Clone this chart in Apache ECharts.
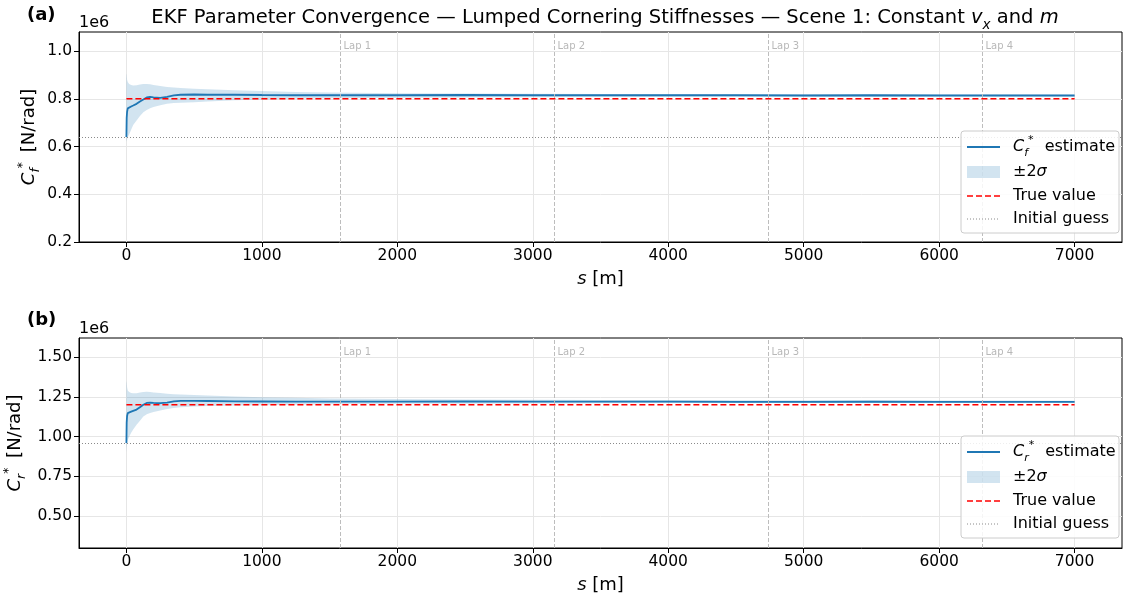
<!DOCTYPE html>
<html>
<head>
<meta charset="utf-8">
<script src="https://cdn.jsdelivr.net/npm/echarts@6/dist/echarts.min.js"></script>
<style>
html,body{margin:0;padding:0;background:#fff;}
#c{width:1123px;height:598px;}
</style>
</head>
<body>
<div id="c"></div>
<script>
// ---------- data ----------
const S = [0,2,5,10,20,35,50,75,100,125,150,175,200,250,300,350,400,500,600,800,1000,1250,1500,2000,2500,3000,3500,4000,4500,5000,5500,6000,6500,7000];
const cfEst = [0.64,0.72,0.745,0.76,0.765,0.768,0.772,0.779,0.789,0.797,0.806,0.808,0.806,0.804,0.808,0.814,0.817,0.818,0.817,0.817,0.816,0.815,0.815,0.815,0.816,0.815,0.815,0.815,0.815,0.814,0.815,0.814,0.814,0.814];
const cfUp  = [0.905,0.90,0.88,0.87,0.862,0.858,0.856,0.857,0.86,0.862,0.862,0.861,0.858,0.854,0.85,0.847,0.845,0.842,0.84,0.836,0.833,0.829,0.826,0.823,0.822,0.821,0.82,0.82,0.819,0.819,0.818,0.818,0.818,0.817];
const cfLo  = [0.62,0.625,0.63,0.64,0.65,0.67,0.69,0.709,0.728,0.744,0.753,0.761,0.766,0.773,0.779,0.782,0.784,0.786,0.789,0.794,0.797,0.80,0.802,0.805,0.806,0.807,0.808,0.808,0.809,0.809,0.809,0.81,0.81,0.81];
const crEst = [0.96,1.09,1.13,1.148,1.152,1.157,1.162,1.17,1.185,1.2,1.212,1.214,1.212,1.21,1.214,1.222,1.225,1.225,1.224,1.222,1.221,1.22,1.22,1.22,1.221,1.22,1.22,1.22,1.219,1.219,1.22,1.219,1.219,1.219];
const crUp  = [1.35,1.34,1.31,1.29,1.28,1.275,1.272,1.272,1.278,1.28,1.282,1.28,1.278,1.274,1.27,1.267,1.265,1.262,1.258,1.252,1.248,1.244,1.24,1.236,1.234,1.232,1.231,1.23,1.229,1.228,1.228,1.227,1.227,1.226];
const crLo  = [0.9,0.93,0.96,0.98,1.0,1.025,1.045,1.075,1.1,1.127,1.14,1.148,1.155,1.165,1.173,1.18,1.185,1.19,1.193,1.195,1.198,1.2,1.203,1.206,1.207,1.209,1.21,1.211,1.211,1.212,1.212,1.212,1.213,1.213];
const cfTrue = 0.8, crTrue = 1.2;
const cfInit = 0.64, crInit = 0.96;
const xRange = [-350, 7350];
const cfRange = [0.2, 1.08];
const crRange = [0.3, 1.62];
const xTicks = [0,1000,2000,3000,4000,5000,6000,7000];
const cfTicks = [0.2,0.4,0.6,0.8,1.0];
const crTicks = [0.5,0.75,1.0,1.25,1.5];
const laps = [1580,3160,4740,6320];
const lapNames = ['Lap 1','Lap 2','Lap 3','Lap 4'];

// ---------- layout ----------
const FONT = 'DejaVu Sans';
const BLUE = '#1f77b4';
const GL = 79, GW = 1043, GH = 210;
const GT = [32, 338];

const chart = echarts.init(document.getElementById('c'), null, {renderer:'canvas'});

function xAxisFor(i){
  return {
    type:'value', gridIndex:i, min:xRange[0], max:xRange[1],
    name:'{it|s} [m]', nameLocation:'middle', nameGap:28,
    nameTextStyle:{fontFamily:FONT, fontSize:18, color:'#000', rich:{it:{fontStyle:'italic', fontFamily:FONT, fontSize:18}}},
    axisLine:{show:true, onZero:false, lineStyle:{color:'#000', width:1}},
    axisTick:{show:true, customValues:xTicks, length:5, lineStyle:{color:'#000'}},
    axisLabel:{customValues:xTicks, fontFamily:FONT, fontSize:15.5, color:'#000', margin:6, formatter:(v)=>String(v)},
    splitLine:{show:true, customValues:xTicks, lineStyle:{color:'#e6e6e6', width:1}}
  };
}
function yAxisFor(i, rng, ticks, sub, dec, gap){
  return {
    type:'value', gridIndex:i, min:rng[0], max:rng[1],
    name:'{it|C}{sub|'+sub+'}{sup|*} [N/rad]', nameLocation:'middle', nameGap:gap, nameRotate:90,
    nameMoveOverlap:false,
    nameTextStyle:{fontFamily:FONT, fontSize:18, color:'#000', lineHeight:26,
      rich:{
        it:{fontStyle:'italic', fontFamily:FONT, fontSize:18, verticalAlign:'middle', lineHeight:26},
        sub:{fontStyle:'italic', fontFamily:FONT, fontSize:12.5, verticalAlign:'bottom', lineHeight:26},
        sup:{fontFamily:FONT, fontSize:12.5, verticalAlign:'top', lineHeight:26, padding:[0,4,0,0]}
      }},
    axisLine:{show:true, onZero:false, lineStyle:{color:'#000', width:1}},
    axisTick:{show:true, customValues:ticks, length:5, lineStyle:{color:'#000'}},
    axisLabel:{customValues:ticks, fontFamily:FONT, fontSize:15.5, color:'#000', margin:7,
      formatter:(v)=>v.toFixed(dec)},
    splitLine:{show:true, customValues:ticks, lineStyle:{color:'#e6e6e6', width:1}}
  };
}

function panelSeries(i, est, up, lo, tv, init, rng){
  const lapY = rng[1] - 0.07*(rng[1]-rng[0]);
  return [
    {type:'custom', xAxisIndex:i, yAxisIndex:i, silent:true, z:2, clip:true,
      data:[[S[0], lo[0]]],
      renderItem:function(params, api){
        const pts = [];
        for(let k=0;k<S.length;k++) pts.push(api.coord([S[k], up[k]]));
        for(let k=S.length-1;k>=0;k--) pts.push(api.coord([S[k], lo[k]]));
        return {type:'polygon', shape:{points:pts}, style:{fill:'rgba(31,119,180,0.2)'}};
      }},
    {type:'line', xAxisIndex:i, yAxisIndex:i, symbol:'none', silent:true,
      lineStyle:{color:BLUE, width:1.8}, data:S.map((s,k)=>[s, est[k]]), z:4},
    {type:'line', xAxisIndex:i, yAxisIndex:i, symbol:'none', silent:true,
      lineStyle:{color:'#ff0000', width:1.6, type:[6,3]},
      data:[[S[0], tv],[S[S.length-1], tv]], z:5},
    {type:'scatter', xAxisIndex:i, yAxisIndex:i, symbolSize:0, silent:true,
      data:laps.map((l,k)=>({value:[l, lapY], name:lapNames[k]})),
      label:{show:true, position:'right', distance:3, formatter:(p)=>p.name,
        fontFamily:FONT, fontSize:10, color:'#a6a6a6'},
      markLine:{silent:true, symbol:'none', animation:false, label:{show:false},
        data:[
          ...laps.map(l=>({xAxis:l, lineStyle:{color:'#bdbdbd', width:1, type:[4,2]}})),
          {yAxis:init, lineStyle:{color:'#8a8a8a', width:1, type:[1,2]}}
        ]}, z:3}
  ];
}

function legend(x, y, sub){
  const els = [];
  els.push({type:'rect', shape:{x:x, y:y, width:158, height:102, r:3},
    style:{fill:'rgba(255,255,255,0.85)', stroke:'#cccccc', lineWidth:1}, z:100});
  const rows = [y+16, y+41, y+65, y+88];
  const ix0 = x+6, ix1 = x+39, tx = x+52;
  els.push({type:'line', shape:{x1:ix0,y1:rows[0],x2:ix1,y2:rows[0]}, style:{stroke:BLUE, lineWidth:1.8}, z:101});
  els.push({type:'rect', shape:{x:ix0, y:rows[1]-6, width:ix1-ix0, height:12}, style:{fill:'rgba(31,119,180,0.2)'}, z:101});
  els.push({type:'line', shape:{x1:ix0,y1:rows[2],x2:ix1,y2:rows[2]}, style:{stroke:'#ff0000', lineWidth:1.6, lineDash:[6,3]}, z:101});
  els.push({type:'line', shape:{x1:ix0,y1:rows[3],x2:ix1,y2:rows[3]}, style:{stroke:'#8a8a8a', lineWidth:1, lineDash:[1,2]}, z:101});
  const ts = {fontFamily:FONT, fontSize:16, fill:'#000', align:'left', verticalAlign:'middle'};
  els.push({type:'text', x:tx, y:rows[0], z:101, style:Object.assign({}, ts, {
    text:'{it|C}{sub|'+sub+'}{sup|*} estimate', lineHeight:24,
    rich:{
      it:{fontStyle:'italic', fontFamily:FONT, fontSize:16, verticalAlign:'middle', lineHeight:24},
      sub:{fontStyle:'italic', fontFamily:FONT, fontSize:11, verticalAlign:'bottom', lineHeight:24},
      sup:{fontFamily:FONT, fontSize:11, verticalAlign:'top', lineHeight:24, padding:[0,6,0,0]}
    }})});
  els.push({type:'text', x:tx, y:rows[1], z:101, style:Object.assign({}, ts, {text:'±2{it|σ}',
    rich:{it:{fontStyle:'italic', fontFamily:FONT, fontSize:16}}})});
  els.push({type:'text', x:tx, y:rows[2], z:101, style:Object.assign({}, ts, {text:'True value'})});
  els.push({type:'text', x:tx, y:rows[3], z:101, style:Object.assign({}, ts, {text:'Initial guess'})});
  return els;
}

const graphics = [
  {type:'text', x:605, y:18, z:50, style:{
    text:'EKF Parameter Convergence — Lumped Cornering Stiffnesses — Scene 1: Constant {it|v}{sub|x} and {it|m}',
    fontFamily:FONT, fontSize:19.5, fill:'#000', align:'center', verticalAlign:'middle', lineHeight:28,
    rich:{
      it:{fontStyle:'italic', fontFamily:FONT, fontSize:19.5, verticalAlign:'middle', lineHeight:28},
      sub:{fontStyle:'italic', fontFamily:FONT, fontSize:13.5, verticalAlign:'bottom', lineHeight:28}
    }}},
  {type:'text', x:27, y:15, style:{text:'(a)', fontFamily:FONT, fontSize:18, fontWeight:'bold', fill:'#000', verticalAlign:'middle'}},
  {type:'text', x:27, y:320, style:{text:'(b)', fontFamily:FONT, fontSize:18, fontWeight:'bold', fill:'#000', verticalAlign:'middle'}},
  {type:'text', x:79, y:23, style:{text:'1e6', fontFamily:FONT, fontSize:16, fill:'#000', verticalAlign:'middle'}},
  {type:'text', x:79, y:329, style:{text:'1e6', fontFamily:FONT, fontSize:16, fill:'#000', verticalAlign:'middle'}},
  ...legend(961, 131, 'f'),
  ...legend(961, 436, 'r')
];

const option = {
  animation:false,
  backgroundColor:'#ffffff',
  textStyle:{fontFamily:FONT},
  grid:[
    {left:GL, top:GT[0], width:GW, height:GH, show:true, borderColor:'#000', borderWidth:1, backgroundColor:'transparent', containLabel:false, outerBoundsMode:'none'},
    {left:GL, top:GT[1], width:GW, height:GH, show:true, borderColor:'#000', borderWidth:1, backgroundColor:'transparent', containLabel:false, outerBoundsMode:'none'}
  ],
  xAxis:[xAxisFor(0), xAxisFor(1)],
  yAxis:[yAxisFor(0, cfRange, cfTicks, 'f', 1, 37), yAxisFor(1, crRange, crTicks, 'r', 2, 51)],
  series:[
    ...panelSeries(0, cfEst, cfUp, cfLo, cfTrue, cfInit, cfRange),
    ...panelSeries(1, crEst, crUp, crLo, crTrue, crInit, crRange)
  ],
  graphic:graphics
};
chart.setOption(option);
</script>
</body>
</html>
